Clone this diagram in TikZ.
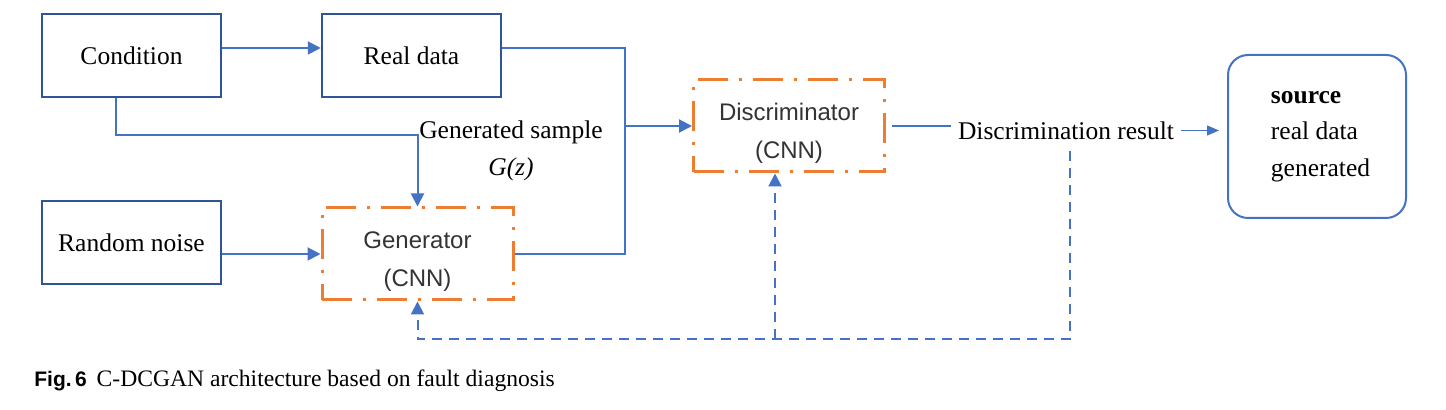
\documentclass[tikz,border=0pt]{standalone}
\usepackage{fontspec}
\setmainfont{Liberation Serif}
\setsansfont{Liberation Sans}
\usetikzlibrary{arrows.meta}
\definecolor{boxblue}{HTML}{2F5597}
\definecolor{lineblue}{HTML}{4472C4}
\definecolor{cnnorange}{HTML}{ED7D31}
\tikzstyle{bx} = [rectangle, draw=boxblue, line width=1.25pt, inner sep=0pt,
    minimum width=89.5pt, minimum height=41.5pt, font=\fontsize{12.75}{15}\selectfont]
\tikzstyle{cnn} = [rectangle, draw=cnnorange, line width=1.5pt, align=center,
    dash pattern=on 15pt off 5.5pt on 1.5pt off 5.5pt, text=black!80,
    minimum width=95.5pt, minimum height=46pt, font=\sffamily\fontsize{12}{19}\selectfont]
\tikzstyle{src} = [rectangle, draw=lineblue, line width=1pt, rounded corners=10pt,
    minimum width=89pt, minimum height=81.5pt, align=left, font=\fontsize{12.75}{18.25}\selectfont]
\tikzstyle{lbl} = [align=center, font=\fontsize{12.75}{18.5}\selectfont]
\tikzstyle{ln} = [lineblue, line width=1pt]
\tikzstyle{fb} = [dash pattern=on 5pt off 3.5pt]

\begin{document}
\begin{tikzpicture}[x=0.5pt,y=-0.5pt,>={Triangle[length=6.5pt,width=6.5pt]},node distance=93.5pt]
  \useasboundingbox (0,0) rectangle (1446,410);

  \node[bx]   (cond) at (131.5,55.5) {Condition};
  \node[bx]   (real) [right of=cond, xshift=46.5pt] {Real data};
  \node[bx]   (noise) [below of=cond] {Random noise};
  \node[cnn]  (gen) [right of=noise, xshift=49.5pt, yshift=-5.75pt] {\rule{0pt}{16pt}Generator\\(CNN)};
  \node[cnn]  (disc) [right of=gen, xshift=92.25pt, yshift=64pt] {\rule{0pt}{16pt}Discriminator\\(CNN)};
  \node[lbl]  (result) [right of=disc, xshift=45pt, yshift=-2.25pt] {Discrimination result};
  \node[src]  (source) [right of=disc, xshift=170.5pt, yshift=-5.25pt]
    {\hspace*{3.5pt}\textbf{source}\\\hspace*{3.5pt}real data\\\hspace*{3.5pt}generated};
  \node[lbl]  (gsample) [above of=gen, anchor=base, xshift=46.75pt, yshift=-54.5pt] {Generated sample\\\textit{G(z)}};

  \coordinate (ca) at ([yshift=3.75pt]cond.east);
  \coordinate (ra) at ([yshift=3.75pt]real.east);
  \draw[ln,->] (ca) -- (ca -| real.west);
  \draw[ln,->] ([xshift=-7.75pt]cond.south) -- ++(0pt,-18.5pt) -| (gen.north);
  \draw[ln,->] (noise.east |- gen.west) -- (gen.west);
  \draw[ln] (ra) -- ++(61.5pt,0pt) coordinate (tr) |- (gen.east);
  \draw[ln,->] (tr |- disc.west) -- (disc.west);
  \draw[ln,shorten <=3pt] (disc.east) -- (disc.east -| result.west);
  \draw[ln,line width=0.7pt,-{Triangle[length=6pt,width=5pt]},shorten >=4pt]
    (result.east) -- (result.east -| source.west);

  % feedback of the result
  \coordinate (fbb) at ([yshift=-18.75pt]gen.south);
  \coordinate (dtap) at ([xshift=-7pt]disc.south);
  \draw[ln,fb,->] ([xshift=2pt,yshift=-2pt]result.south) |- (fbb) -- (gen.south);
  \draw[ln,fb,->] (dtap |- fbb) -- (dtap);

  \node[anchor=base west, inner sep=0pt, font=\sffamily\bfseries\fontsize{10.5}{12}\selectfont]
    (fig) at (34,387) {Fig.\,6};
  \node[anchor=base west, inner sep=0pt, font=\fontsize{11.8}{14}\selectfont]
    (cap) at ([xshift=4.5pt]fig.base east) {C-DCGAN architecture based on fault diagnosis};
\end{tikzpicture}
\end{document}
